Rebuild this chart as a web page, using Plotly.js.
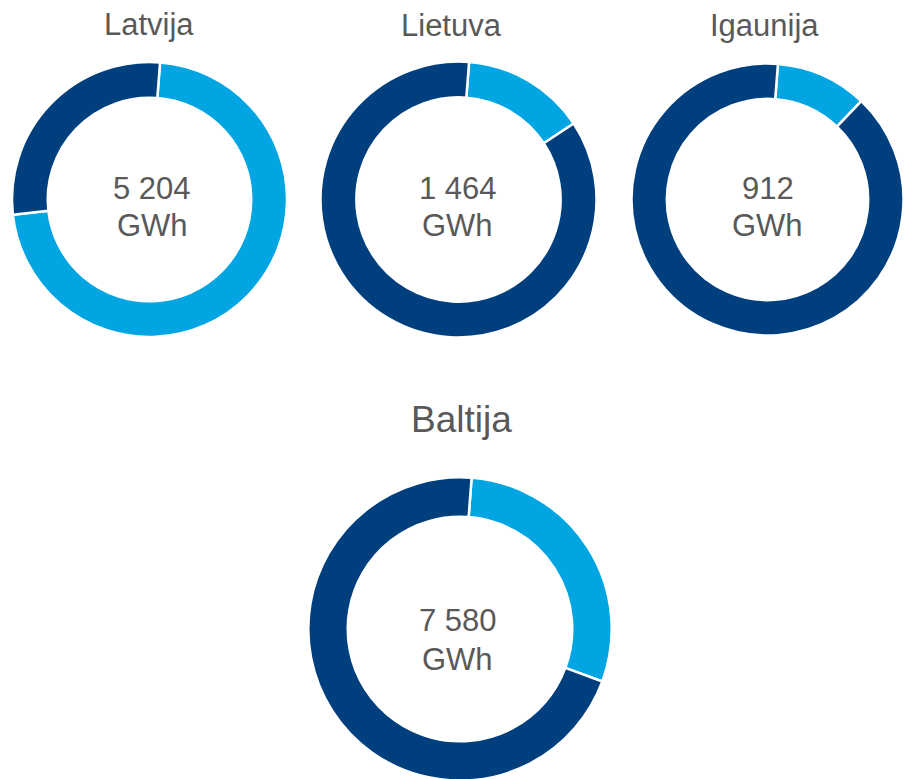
<!DOCTYPE html>
<html>
<head>
<meta charset="utf-8">
<script src="https://cdn.plot.ly/plotly-3.0.1.min.js"></script>
<style>
  html, body { margin: 0; padding: 0; overflow: hidden; background: #ffffff; }
  #chart { width: 904px; height: 800px; }
</style>
</head>
<body>
<div id="chart"></div>
<script>
// ---- Data ----
const regions     = ["Latvija", "Lietuva", "Igaunija", "Baltija"];
const totalLabels = ["5 204", "1 464", "912", "7 580"];
const unitLabel   = "GWh";
const lightShare  = [72.0, 14.5, 10.9, 29.4];   // % (light blue slice)
const darkShare   = [28.0, 85.5, 89.1, 70.6];   // % (dark blue slice)

// ---- Styling / placement ----
const W = 904, H = 800;
const LIGHT = "#00A5E2", DARK = "#003F7D", TEXT = "#595959";
const FONT = "Arial, Liberation Sans, sans-serif";

const geo = [
  {cx: 149.5, cy: 199.5, r: 137.5, tx: 148.5, ty: 24.5, tsize: 31, n1: 188.8, n2: 225.5, nx: 152},
  {cx: 458.5, cy: 199.5, r: 138.0, tx: 451.5, ty: 25.5, tsize: 31, n1: 188.3, n2: 225.0, nx: 458},
  {cx: 767.5, cy: 199.5, r: 136.0, tx: 764.5, ty: 25.5, tsize: 31, n1: 188.3, n2: 225.0, nx: 767.5},
  {cx: 460.0, cy: 629.0, r: 151.7, tx: 461.5, ty: 419.5, tsize: 37, n1: 620.3, n2: 659.3, nx: 458}
];

const traces = [];
const annotations = [];
regions.forEach((name, i) => {
  const g = geo[i];
  traces.push({
    type: "pie",
    values: [lightShare[i], darkShare[i]],
    labels: ["a", "b"],
    sort: false,
    direction: "clockwise",
    rotation: 4.4,
    hole: 0.74,
    textinfo: "none",
    hoverinfo: "skip",
    showlegend: false,
    marker: { colors: [LIGHT, DARK], line: { color: "#ffffff", width: 2.5 } },
    domain: {
      x: [(g.cx - g.r) / W, (g.cx + g.r) / W],
      y: [1 - (g.cy + g.r) / H, 1 - (g.cy - g.r) / H]
    }
  });
  annotations.push({
    text: name, showarrow: false, xref: "paper", yref: "paper",
    x: g.tx / W, y: 1 - g.ty / H, xanchor: "center", yanchor: "middle",
    font: { family: FONT, size: g.tsize, color: TEXT }
  });
  annotations.push({
    text: totalLabels[i], showarrow: false, xref: "paper", yref: "paper",
    x: g.nx / W, y: 1 - g.n1 / H, xanchor: "center", yanchor: "middle",
    font: { family: FONT, size: 31, color: TEXT }
  });
  annotations.push({
    text: unitLabel, showarrow: false, xref: "paper", yref: "paper",
    x: g.nx / W, y: 1 - g.n2 / H, xanchor: "center", yanchor: "middle",
    font: { family: FONT, size: 31, color: TEXT }
  });
});

const layout = {
  width: W, height: H,
  margin: { l: 0, r: 0, t: 0, b: 0 },
  paper_bgcolor: "#ffffff",
  showlegend: false,
  annotations: annotations
};

Plotly.newPlot("chart", traces, layout, { staticPlot: true, displayModeBar: false });
</script>
</body>
</html>
